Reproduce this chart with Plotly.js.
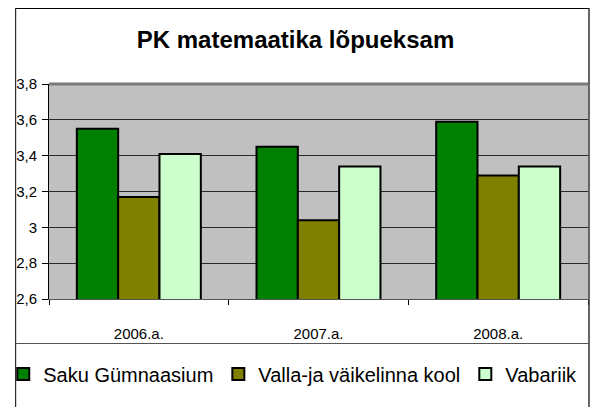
<!DOCTYPE html>
<html>
<head>
<meta charset="utf-8">
<script src="https://cdn.plot.ly/plotly-3.0.1.min.js"></script>
<style>
  html, body { margin: 0; padding: 0; background: #ffffff; }
  #chart { width: 591px; height: 407px; }
</style>
</head>
<body>
<div id="chart"></div>
<script>
// ---- data ----
var categories = ["2006.a.", "2007.a.", "2008.a."];
var seriesNames = ["Saku Gümnaasium", "Valla-ja väikelinna kool", "Vabariik"];
var sakuValues = [3.55, 3.45, 3.59];
var vallaValues = [3.17, 3.04, 3.29];
var vabariikValues = [3.41, 3.34, 3.34];
var yTickValues = [2.6, 2.8, 3.0, 3.2, 3.4, 3.6, 3.8];
var titleText = "PK matemaatika lõpueksam";

// ---- geometry helpers (pixel -> paper) ----
var W = 591, H = 407;
var M = { l: 46, r: 3, t: 84, b: 108 };
var PW = W - M.l - M.r, PH = H - M.t - M.b;
function px(x) { return (x - M.l) / PW; }
function py(y) { return (H - M.b - y) / PH; }

var colors = ["#008000", "#808000", "#CCFFCC"];
var valuesList = [sakuValues, vallaValues, vabariikValues];

var traces = seriesNames.map(function (name, i) {
  return {
    type: "bar",
    name: name,
    x: categories,
    y: valuesList[i],
    marker: { color: colors[i], line: { color: "#000000", width: 2 } },
    hoverinfo: "skip"
  };
});

var layout = {
  width: W,
  height: H,
  margin: M,
  paper_bgcolor: "#ffffff",
  plot_bgcolor: "#C0C0C0",
  separators: ", ",
  barmode: "group",
  bargap: 0.31,
  bargroupgap: 0,
  showlegend: true,
  font: { family: "Liberation Sans, Arial, sans-serif", color: "#000000" },
  title: {
    text: "<b>" + titleText + "</b>",
    font: { family: "Liberation Sans, Arial, sans-serif", size: 24, color: "#000000" },
    x: 0.5, xref: "container", xanchor: "center",
    y: 1 - 40 / H, yref: "container", yanchor: "middle"
  },
  xaxis: {
    type: "category",
    showgrid: false,
    showline: true,
    linecolor: "#555555",
    linewidth: 1,
    ticks: "outside",
    tickson: "boundaries",
    ticklen: 5,
    tickcolor: "#000000",
    tickfont: { size: 15, color: "#000000" },
    ticklabelstandoff: 21,
    fixedrange: true
  },
  yaxis: {
    range: [2.6, 3.8],
    tickvals: yTickValues,
    tickformat: ".1~f",
    showgrid: true,
    gridcolor: "#2a2a2a",
    gridwidth: 1,
    zeroline: false,
    showline: true,
    linecolor: "#000000",
    linewidth: 1,
    ticks: "outside",
    ticklen: 6,
    tickcolor: "#000000",
    tickfont: { size: 15, color: "#000000" },
    ticklabelstandoff: 2,
    fixedrange: true
  },
  legend: {
    orientation: "h",
    x: px(0),
    xanchor: "left",
    y: py(374),
    yanchor: "middle",
    bgcolor: "rgba(0,0,0,0)",
    borderwidth: 0,
    font: { family: "Liberation Sans, Arial, sans-serif", size: 20, color: "#000000" },
    itemclick: false,
    itemdoubleclick: false
  },
  shapes: [
    // top edge of the plot wall
    { type: "line", xref: "paper", yref: "paper", x0: 0, x1: 1, y0: 1, y1: 1,
      line: { color: "#7a7a7a", width: 3 }, layer: "below" },
    // outer chart frame
    { type: "line", xref: "paper", yref: "paper", x0: px(12.5), x1: px(12.5), y0: py(8), y1: py(420),
      line: { color: "#000000", width: 1 } },
    { type: "line", xref: "paper", yref: "paper", x0: px(12.5), x1: px(589), y0: py(8.5), y1: py(8.5),
      line: { color: "#000000", width: 1 } },
    { type: "line", xref: "paper", yref: "paper", x0: px(589), x1: px(589), y0: py(8), y1: py(420),
      line: { color: "#333333", width: 1.5 } },
    // separator above the legend
    { type: "line", xref: "paper", yref: "paper", x0: px(12.5), x1: px(589), y0: py(343.5), y1: py(343.5),
      line: { color: "#555555", width: 1 } }
  ]
};

Plotly.newPlot("chart", traces, layout, { displayModeBar: false, staticPlot: true });
</script>
</body>
</html>
